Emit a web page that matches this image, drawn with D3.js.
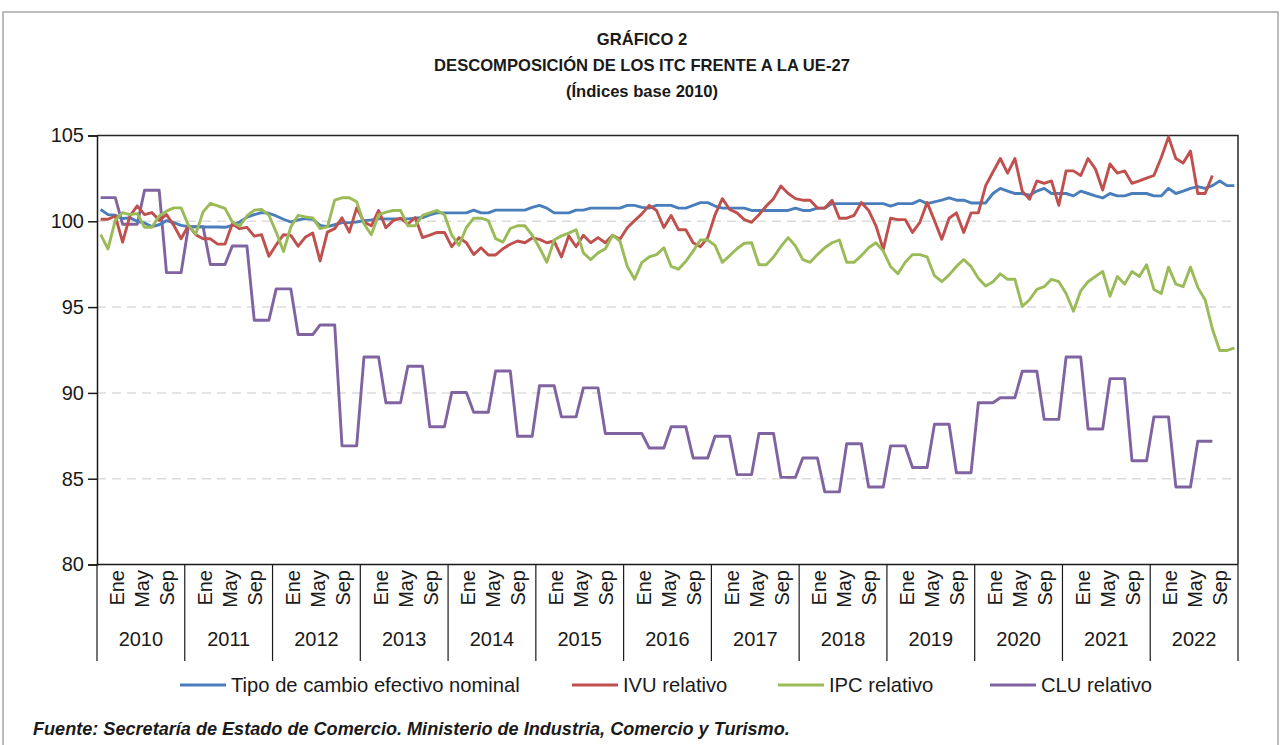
<!DOCTYPE html>
<html>
<head>
<meta charset="utf-8">
<script src="https://cdn.jsdelivr.net/npm/d3@7"></script>
<style>
    body { margin: 0; background: #ffffff; }
    svg text { font-family: "Liberation Sans", Arial, Helvetica, sans-serif; fill: #1a1a1a; }
</style>
</head>
<body>
<svg id="svg-main"></svg>
<script>
const YEARS = [2010, 2011, 2012, 2013, 2014, 2015, 2016, 2017, 2018, 2019, 2020, 2021, 2022];
const MONTH_LABELS = ["Ene", "May", "Sep"];
const Y_TICKS = [80, 85, 90, 95, 100, 105];
const GRID_TICKS = [85, 90, 95, 100];

const TITLE_LINES = ["GRÁFICO 2", "DESCOMPOSICIÓN DE LOS ITC FRENTE A LA UE-27", "(Índices base 2010)"];
const SOURCE_NOTE = "Fuente: Secretaría de Estado de Comercio. Ministerio de Industria, Comercio y Turismo.";

const SERIES_NAMES = ["Tipo de cambio efectivo nominal", "IVU relativo", "IPC relativo", "CLU relativo"];
const SERIES_COLORS = ["#4a7ebb", "#c0504d", "#9bbb59", "#8064a2"];

// monthly values, one row per year
const TIPO_CAMBIO = [
    100.69, 100.39, 100.35, 100.16, 100.20, 100.00, 99.90, 99.69, 99.80, 100.04, 99.92, 99.76,
    99.69, 99.67, 99.67, 99.67, 99.67, 99.65, 99.76, 99.96, 100.24, 100.39, 100.51, 100.47,
    100.31, 100.12, 99.96, 100.08, 100.16, 100.12, 99.76, 99.69, 99.80, 99.92, 99.92, 99.96,
    100.04, 100.08, 100.14, 100.14, 100.14, 100.14, 100.14, 100.18, 100.22, 100.38, 100.49, 100.49,
    100.49, 100.49, 100.49, 100.65, 100.49, 100.49, 100.65, 100.65, 100.65, 100.65, 100.65, 100.81,
    100.93, 100.77, 100.49, 100.49, 100.49, 100.65, 100.65, 100.77, 100.77, 100.77, 100.77, 100.77,
    100.93, 100.93, 100.81, 100.77, 100.93, 100.93, 100.93, 100.77, 100.77, 100.93, 101.09, 101.09,
    100.89, 100.77, 100.77, 100.77, 100.77, 100.63, 100.63, 100.63, 100.63, 100.63, 100.63, 100.77,
    100.63, 100.63, 100.77, 100.77, 101.03, 101.03, 101.03, 101.03, 101.03, 101.03, 101.03, 101.03,
    100.89, 101.03, 101.03, 101.03, 101.23, 101.03, 101.13, 101.23, 101.36, 101.23, 101.23, 101.07,
    101.07, 101.07, 101.62, 101.92, 101.76, 101.62, 101.62, 101.52, 101.76, 101.92, 101.62, 101.62,
    101.62, 101.48, 101.76, 101.62, 101.48, 101.36, 101.62, 101.48, 101.48, 101.62, 101.62, 101.62,
    101.48, 101.48, 101.92, 101.62, 101.76, 101.92, 102.02, 101.92, 102.08, 102.35, 102.08, 102.08
];

const IVU_RELATIVO = [
    100.12, 100.12, 100.31, 98.78, 100.31, 100.90, 100.39, 100.51, 100.06, 100.39, 99.76, 98.98,
    99.76, 99.22, 98.98, 98.98, 98.67, 98.67, 99.86, 99.57, 99.65, 99.14, 99.22, 97.96,
    98.63, 99.22, 99.18, 98.55, 99.08, 99.31, 97.69, 99.37, 99.57, 100.20, 99.37, 100.78,
    99.96, 99.74, 100.63, 99.62, 100.04, 100.18, 99.84, 100.22, 99.05, 99.19, 99.35, 99.35,
    98.52, 99.05, 98.75, 98.06, 98.46, 98.04, 98.04, 98.40, 98.66, 98.85, 98.75, 99.03,
    98.95, 98.75, 98.85, 97.92, 99.15, 98.52, 99.19, 98.75, 99.05, 98.75, 99.19, 98.95,
    99.62, 100.04, 100.43, 100.93, 100.63, 99.64, 100.34, 99.51, 99.51, 98.75, 98.52, 99.05,
    100.38, 101.32, 100.69, 100.49, 100.10, 99.94, 100.38, 100.89, 101.32, 102.06, 101.62, 101.32,
    101.23, 101.23, 100.77, 100.77, 101.23, 100.18, 100.18, 100.34, 101.09, 100.63, 99.74, 98.36,
    100.18, 100.10, 100.10, 99.35, 99.94, 101.09, 100.04, 98.95, 100.18, 100.49, 99.35, 100.49,
    100.49, 102.08, 102.87, 103.66, 102.81, 103.66, 101.76, 101.28, 102.35, 102.21, 102.35, 100.93,
    102.94, 102.94, 102.67, 103.66, 103.06, 101.82, 103.34, 102.81, 102.94, 102.21, 102.35, 102.51,
    102.67, 103.70, 104.92, 103.66, 103.40, 104.09, 101.62, 101.62, 102.67
];

const IPC_RELATIVO = [
    99.22, 98.39, 100.06, 100.51, 100.39, 100.45, 99.65, 99.65, 100.31, 100.59, 100.78, 100.78,
    99.76, 99.25, 100.55, 101.04, 100.90, 100.75, 99.96, 99.71, 100.31, 100.65, 100.69, 100.35,
    99.37, 98.24, 99.67, 100.35, 100.25, 100.20, 99.57, 99.67, 101.24, 101.37, 101.37, 101.14,
    99.86, 99.22, 100.38, 100.53, 100.63, 100.63, 99.74, 99.74, 100.34, 100.49, 100.63, 100.38,
    99.19, 98.60, 99.64, 100.18, 100.18, 100.04, 98.99, 98.79, 99.58, 99.74, 99.74, 99.19,
    98.46, 97.61, 98.91, 99.15, 99.31, 99.51, 98.16, 97.77, 98.16, 98.40, 99.19, 98.85,
    97.37, 96.62, 97.61, 97.92, 98.06, 98.46, 97.37, 97.21, 97.67, 98.26, 98.91, 98.91,
    98.60, 97.61, 98.00, 98.40, 98.72, 98.75, 97.47, 97.47, 97.92, 98.52, 99.05, 98.56,
    97.77, 97.61, 98.06, 98.46, 98.75, 98.91, 97.61, 97.61, 98.00, 98.46, 98.75, 98.26,
    97.37, 96.94, 97.61, 98.06, 98.06, 97.92, 96.83, 96.48, 96.88, 97.37, 97.77, 97.37,
    96.68, 96.23, 96.48, 96.94, 96.62, 96.62, 95.04, 95.43, 96.03, 96.19, 96.62, 96.48,
    95.79, 94.76, 95.95, 96.48, 96.78, 97.08, 95.63, 96.78, 96.34, 97.08, 96.78, 97.47,
    96.03, 95.79, 97.33, 96.34, 96.19, 97.33, 96.15, 95.43, 93.72, 92.47, 92.47, 92.63
];

// CLU is quarterly: each value holds for the three months of its quarter
const CLU_RELATIVO_TRIM = [
    101.38, 99.83, 101.81, 97.01,
    99.69, 97.48, 98.56, 94.23,
    96.06, 93.40, 93.96, 86.91,
    92.09, 89.43, 91.55, 88.03,
    90.02, 88.87, 91.28, 87.47,
    90.42, 88.60, 90.29, 87.63,
    87.63, 86.79, 88.03, 86.21,
    87.47, 85.24, 87.63, 85.08,
    86.21, 84.23, 87.04, 84.52,
    86.91, 85.65, 88.17, 85.35,
    89.43, 89.72, 91.26, 88.46,
    92.09, 87.90, 90.83, 86.05,
    88.60, 84.52, 87.18
];

var Dims = {
    MainSvg : { Width: 1281, Height: 745 },
    Plot : { Left: 97, Right: 1238, Top: 135.5, Bottom: 564.5 },
    XAxis : { LabelTop: 570, YearBaseline: 646, SepBottom: 661 },
    Legend : { Y: 685, LineLen: 46, Starts: [180, 572, 778, 990] },
    Frame : { Top: 12, Left: 3, Right: 1278 }
};

var svg = d3.select("svg#svg-main")
    .attr("width", Dims.MainSvg.Width)
    .attr("height", Dims.MainSvg.Height);

var nMonths = YEARS.length * 12;

var x = d3.scaleBand()
    .domain(d3.range(nMonths))
    .range([Dims.Plot.Left, Dims.Plot.Right])
    .paddingInner(0)
    .paddingOuter(0);

var y = d3.scaleLinear()
    .domain([80, 105])
    .range([Dims.Plot.Bottom, Dims.Plot.Top]);

function monthX(i) {
    return x(i) + x.bandwidth() / 2;
}

drawChart();

function drawChart() {
    drawFrame();
    drawTitle();
    drawGrid();
    drawSeries();
    drawAxes();
    drawLegend();
    drawSource();
}

function drawFrame() {
    svg.append("path")
        .attr("d", `M${Dims.Frame.Left},${Dims.MainSvg.Height} V${Dims.Frame.Top} H${Dims.Frame.Right} V${Dims.MainSvg.Height}`)
        .attr("fill", "none")
        .attr("stroke", "#a6a6a6")
        .attr("stroke-width", 1.5);
}

function drawTitle() {
    var baselines = [45, 71, 97];
    svg.append("g")
        .selectAll("text")
        .data(TITLE_LINES)
        .enter()
        .append("text")
        .attr("x", 642)
        .attr("y", (d, i) => baselines[i])
        .attr("text-anchor", "middle")
        .attr("font-size", "16.6px")
        .attr("font-weight", "bold")
        .text(d => d);
}

function drawGrid() {
    svg.append("g")
        .selectAll("line")
        .data(GRID_TICKS)
        .enter()
        .append("line")
        .attr("x1", Dims.Plot.Left)
        .attr("x2", Dims.Plot.Right)
        .attr("y1", d => y(d))
        .attr("y2", d => y(d))
        .attr("stroke", "#dcdcdc")
        .attr("stroke-width", 1.5)
        .attr("stroke-dasharray", "9,6");

    // plot area border (top and right)
    svg.append("path")
        .attr("d", `M${Dims.Plot.Left},${Dims.Plot.Top} H${Dims.Plot.Right} V${Dims.Plot.Bottom}`)
        .attr("fill", "none")
        .attr("stroke", "#262626")
        .attr("stroke-width", 1.5);
}

function drawSeries() {
    var cluMonthly = [];
    CLU_RELATIVO_TRIM.forEach(function (v) {
        cluMonthly.push(v, v, v);
    });
    var allSeries = [TIPO_CAMBIO, IVU_RELATIVO, IPC_RELATIVO, cluMonthly];

    var line = d3.line()
        .x((d, i) => monthX(i))
        .y(d => y(d));

    // CLU drawn first, then the others on top in legend order
    var order = [3, 0, 1, 2];
    svg.append("g")
        .selectAll("path")
        .data(order)
        .enter()
        .append("path")
        .attr("d", k => line(allSeries[k]))
        .attr("fill", "none")
        .attr("stroke", k => SERIES_COLORS[k])
        .attr("stroke-width", 2.9)
        .attr("stroke-linejoin", "round");
}

function drawAxes() {
    var yAxis = d3.axisLeft(y)
        .tickValues(Y_TICKS)
        .tickSize(9)
        .tickPadding(4)
        .tickFormat(d3.format("d"));

    var gy = svg.append("g")
        .attr("transform", `translate(${Dims.Plot.Left},0)`)
        .call(yAxis);
    gy.select(".domain").attr("stroke", "#1a1a1a").attr("stroke-width", 1.5);
    gy.selectAll(".tick line").attr("stroke", "#1a1a1a").attr("stroke-width", 1.5);
    gy.selectAll(".tick text")
        .attr("font-size", "20px")
        .attr("font-family", null)
        .attr("fill", "#1a1a1a");

    // bottom axis line
    svg.append("line")
        .attr("x1", Dims.Plot.Left)
        .attr("x2", Dims.Plot.Right)
        .attr("y1", Dims.Plot.Bottom)
        .attr("y2", Dims.Plot.Bottom)
        .attr("stroke", "#1a1a1a")
        .attr("stroke-width", 1.5);

    // year separators
    var bounds = d3.range(YEARS.length + 1).map(function (k) {
        return k < YEARS.length ? x(k * 12) : Dims.Plot.Right;
    });
    svg.append("g")
        .selectAll("line")
        .data(bounds)
        .enter()
        .append("line")
        .attr("x1", d => d)
        .attr("x2", d => d)
        .attr("y1", Dims.Plot.Bottom)
        .attr("y2", Dims.XAxis.SepBottom)
        .attr("stroke", "#1a1a1a")
        .attr("stroke-width", 1.2);

    var yearWidth = x.bandwidth() * 12;
    var labelFrac = [0.228, 0.513, 0.798];

    var yearGrp = svg.append("g")
        .selectAll("g")
        .data(YEARS)
        .enter()
        .append("g")
        .attr("transform", (d, k) => `translate(${x(k * 12)},0)`);

    yearGrp.selectAll("text.month")
        .data(MONTH_LABELS)
        .enter()
        .append("text")
        .attr("class", "month")
        .attr("transform", (d, j) => `translate(${labelFrac[j] * yearWidth},${Dims.XAxis.LabelTop}) rotate(-90)`)
        .attr("text-anchor", "end")
        .attr("dy", "0.36em")
        .attr("font-size", "20px")
        .text(d => d);

    yearGrp.append("text")
        .attr("x", yearWidth / 2)
        .attr("y", Dims.XAxis.YearBaseline)
        .attr("text-anchor", "middle")
        .attr("font-size", "20px")
        .text(d => d);
}

function drawLegend() {
    var items = svg.append("g")
        .selectAll("g")
        .data(SERIES_NAMES)
        .enter()
        .append("g")
        .attr("transform", (d, i) => `translate(${Dims.Legend.Starts[i]},${Dims.Legend.Y})`);

    items.append("line")
        .attr("x1", 0)
        .attr("x2", Dims.Legend.LineLen)
        .attr("stroke", (d, i) => SERIES_COLORS[i])
        .attr("stroke-width", 2.9);

    items.append("text")
        .attr("x", Dims.Legend.LineLen + 5)
        .attr("y", 7)
        .attr("font-size", "20.2px")
        .text(d => d);
}

function drawSource() {
    svg.append("text")
        .attr("x", 33)
        .attr("y", 735)
        .attr("font-size", "18.1px")
        .attr("font-weight", "bold")
        .attr("font-style", "italic")
        .text(SOURCE_NOTE);
}
</script>
</body>
</html>
